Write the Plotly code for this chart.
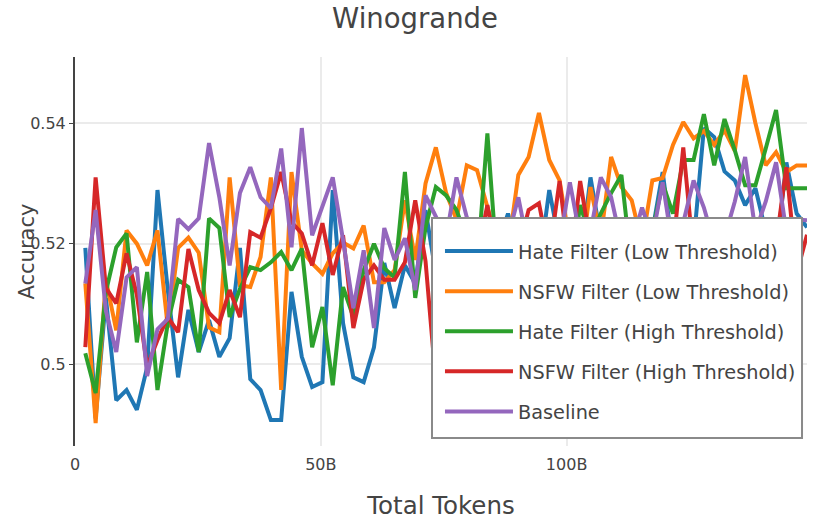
import plotly.graph_objects as go

tokens_b = [2.097, 4.194, 6.291, 8.389, 10.486, 12.583, 14.680, 16.777, 18.874, 20.972,
            23.069, 25.166, 27.263, 29.360, 31.457, 33.554, 35.652, 37.749, 39.846, 41.943,
            44.040, 46.137, 48.235, 50.332, 52.429, 54.526, 56.623, 58.720, 60.817, 62.915,
            65.012, 67.109, 69.206, 71.303, 73.400, 75.497, 77.595, 79.692, 81.789, 83.886,
            85.983, 88.080, 90.178, 92.275, 94.372, 96.469, 98.566, 100.663, 102.760, 104.858,
            106.955, 109.052, 111.149, 113.246, 115.343, 117.441, 119.538, 121.635, 123.732, 125.829,
            127.926, 130.023, 132.121, 134.218, 136.315, 138.412, 140.509, 142.606, 144.703, 146.801,
            148.898]

hate_low = [0.5193, 0.4910, 0.5110, 0.4940, 0.4957, 0.4924, 0.4995, 0.5289, 0.5123, 0.4978,
            0.5090, 0.5020, 0.5073, 0.5012, 0.5043, 0.5193, 0.4975, 0.4957, 0.4907, 0.4907,
            0.5120, 0.5012, 0.4962, 0.4970, 0.5289, 0.5068, 0.4978, 0.4970, 0.5028, 0.5168,
            0.5093, 0.5164, 0.5134, 0.5256, 0.5150, 0.5120, 0.5180, 0.5140, 0.5190, 0.5160,
            0.5200, 0.5250, 0.5180, 0.5210, 0.5160, 0.5289, 0.5200, 0.5220, 0.5170, 0.5310,
            0.5210, 0.5180, 0.5230, 0.5160, 0.5200, 0.5220, 0.5319, 0.5190, 0.5140, 0.5200,
            0.5392, 0.5377, 0.5320, 0.5305, 0.5264, 0.5292, 0.5220, 0.5180, 0.5335, 0.5250,
            0.5227]

nsfw_low = [0.5134, 0.4902, 0.5140, 0.5056, 0.5222, 0.5200, 0.5164, 0.5222, 0.5061, 0.5193,
            0.5210, 0.5185, 0.5061, 0.5053, 0.5310, 0.5131, 0.5128, 0.5178, 0.5310, 0.4957,
            0.5319, 0.5189, 0.5167, 0.5150, 0.5184, 0.5202, 0.5192, 0.5230, 0.5136, 0.5136,
            0.5156, 0.5272, 0.5173, 0.5300, 0.5360, 0.5284, 0.5240, 0.5330, 0.5322, 0.5259,
            0.5200, 0.5190, 0.5314, 0.5344, 0.5417, 0.5339, 0.5305, 0.5200, 0.5160, 0.5294,
            0.5210, 0.5344, 0.5294, 0.5272, 0.5200, 0.5305, 0.5309, 0.5364, 0.5402, 0.5375,
            0.5387, 0.5364, 0.5388, 0.5354, 0.5480, 0.5400, 0.5330, 0.5352, 0.5319, 0.5330,
            0.5330]

hate_high = [0.5018, 0.4952, 0.5120, 0.5194, 0.5217, 0.5036, 0.5153, 0.4957, 0.5068, 0.5140,
             0.5128, 0.5020, 0.5242, 0.5226, 0.5078, 0.5125, 0.5161, 0.5156, 0.5169, 0.5186,
             0.5156, 0.5192, 0.5028, 0.5095, 0.4965, 0.5128, 0.5078, 0.5156, 0.5200, 0.5159,
             0.5144, 0.5319, 0.5110, 0.5227, 0.5294, 0.5280, 0.5256, 0.5210, 0.5160, 0.5383,
             0.5150, 0.5180, 0.5130, 0.5190, 0.5160, 0.5200, 0.5170, 0.5140, 0.5264, 0.5210,
             0.5250, 0.5284, 0.5314, 0.5160, 0.5190, 0.5220, 0.5300, 0.5250, 0.5339, 0.5339,
             0.5415, 0.5330, 0.5407, 0.5355, 0.5297, 0.5297, 0.5358, 0.5422, 0.5292, 0.5292,
             0.5292]

nsfw_high = [0.5028, 0.5310, 0.5126, 0.5101, 0.5184, 0.5115, 0.4996, 0.5040, 0.5078, 0.5053,
             0.5191, 0.5123, 0.5085, 0.5068, 0.5123, 0.5078, 0.5219, 0.5210, 0.5259, 0.5319,
             0.5236, 0.5217, 0.5164, 0.5234, 0.5148, 0.5214, 0.5060, 0.5140, 0.5164, 0.5140,
             0.5140, 0.5169, 0.5272, 0.5171, 0.4970, 0.5100, 0.5150, 0.5120, 0.5180, 0.5264,
             0.5170, 0.5130, 0.5190, 0.5256, 0.5267, 0.5180, 0.5304, 0.5160, 0.5304, 0.5200,
             0.5160, 0.5190, 0.5140, 0.5200, 0.5170, 0.5210, 0.5150, 0.5190, 0.5360, 0.5180,
             0.5140, 0.5200, 0.5170, 0.5210, 0.5150, 0.5190, 0.5160, 0.5200, 0.5327, 0.5150,
             0.5215]

baseline = [0.5134, 0.5256, 0.5088, 0.5020, 0.5144, 0.5161, 0.4980, 0.5058, 0.5075, 0.5241,
            0.5224, 0.5242, 0.5367, 0.5277, 0.5164, 0.5284, 0.5327, 0.5277, 0.5259, 0.5358,
            0.5194, 0.5392, 0.5214, 0.5261, 0.5310, 0.5206, 0.5093, 0.5189, 0.5060, 0.5226,
            0.5173, 0.5209, 0.5123, 0.5280, 0.5244, 0.5210, 0.5310, 0.5244, 0.5200, 0.5150,
            0.5180, 0.5210, 0.5277, 0.5190, 0.5170, 0.5220, 0.5200, 0.5302, 0.5210, 0.5220,
            0.5310, 0.5277, 0.5200, 0.5200, 0.5260, 0.5210, 0.5302, 0.5190, 0.5235, 0.5305,
            0.5260, 0.5200, 0.5210, 0.5270, 0.5344, 0.5220, 0.5270, 0.5335, 0.5220, 0.5240,
            0.5239]

series_names = ["Hate Filter (Low Threshold)", "NSFW Filter (Low Threshold)",
                "Hate Filter (High Threshold)", "NSFW Filter (High Threshold)", "Baseline"]
series_values = [hate_low, nsfw_low, hate_high, nsfw_high, baseline]
colors = ["#1f77b4", "#ff7f0e", "#2ca02c", "#d62728", "#9467bd"]

x_tokens = [t * 1e9 for t in tokens_b]

FONT = "DejaVu Sans"
fig = go.Figure()
for name, vals, col in zip(series_names, series_values, colors):
    fig.add_trace(go.Scatter(x=x_tokens, y=vals, mode="lines", name=name,
                             legendgroup=name,
                             line=dict(color=col, width=4)))

# legend frame (drawn above the traces, below the legend entries)
fig.add_shape(type="rect", xref="paper", yref="paper",
              x0=0.4877, x1=0.9932, y0=0.0206, y1=0.5861,
              fillcolor="white", line=dict(color="#8a8a8a", width=2), layer="above")

# y-axis title
fig.add_annotation(text="Accuracy", xref="paper", yref="paper", x=-0.0656, y=0.5,
                   xanchor="center", yanchor="middle", textangle=-90, showarrow=False,
                   font=dict(size=21, family=FONT, color="#444"))

fig.update_layout(
    width=830, height=520,
    margin=dict(l=75, r=23, t=57, b=74, autoexpand=False),
    paper_bgcolor="white", plot_bgcolor="white",
    font=dict(family=FONT, color="#444", size=16),
    title=dict(text="Winogrande", x=0.5, xanchor="center", y=0.9654, yanchor="middle",
               font=dict(size=27.5, family=FONT, color="#444")),
    legend=dict(x=0.4986, xanchor="left", y=0.550, yanchor="top",
                bgcolor="rgba(0,0,0,0)", borderwidth=0,
                font=dict(size=19.3, family=FONT, color="#444"),
                itemwidth=68, tracegroupgap=12),
    xaxis=dict(title=dict(text="Total Tokens", font=dict(size=24.5), standoff=25),
               range=[0, 1.489e11], dtick=5e10, tick0=0, automargin=False,
               showgrid=True, gridcolor="#ebebeb", gridwidth=2,
               zeroline=False, showline=False, ticks="", ticklabelstandoff=7,
               tickfont=dict(size=16)),
    yaxis=dict(range=[0.4864, 0.551], dtick=0.02, tick0=0.5, automargin=False,
               showgrid=True, gridcolor="#ebebeb", gridwidth=2,
               zeroline=False, showline=True, linecolor="#444", linewidth=2,
               ticks="outside", ticklen=4, tickcolor="#444",
               tickfont=dict(size=16)),
)

fig.write_html("out.html", config={"displayModeBar": False},
               post_script="document.body.style.margin='0px';")
